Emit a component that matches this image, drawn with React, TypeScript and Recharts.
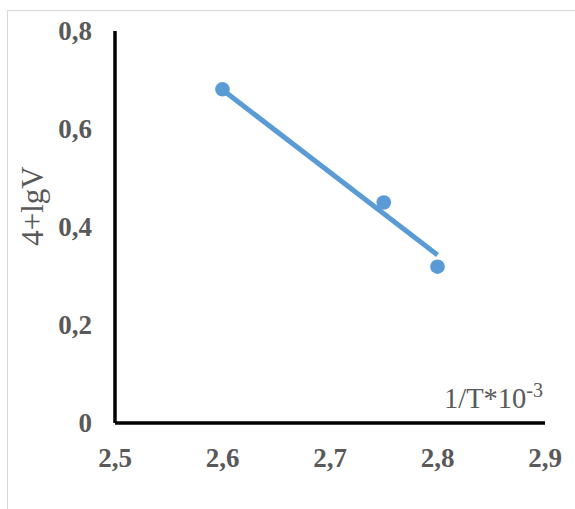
import { ComposedChart, Scatter, Line, XAxis, YAxis, Label } from 'recharts'

const xTicks = [2.5, 2.6, 2.7, 2.8, 2.9]
const yTicks = [0, 0.2, 0.4, 0.6, 0.8]

// measured points
const invT = [2.6, 2.75, 2.8]
const logV = [0.681, 0.45, 0.319]

// linear trend line ends
const trendX = [2.6, 2.8]
const trendY = [0.68, 0.343]

const points = invT.map((x, i) => ({ x, y: logV[i] }))
const trend = trendX.map((x, i) => ({ x, y: trendY[i] }))

const fmt = (v: number) => String(v).replace('.', ',')

const SERIF = 'Liberation Serif'
const GREY = '#595959'
const BLUE = '#5b9bd5'

const XTick = (p: any) => (
  <text
    x={p.x}
    y={p.y}
    dy={20}
    textAnchor="middle"
    style={{ fontFamily: SERIF, fontWeight: 700, fontSize: 27, fill: GREY }}
  >
    {fmt(p.payload.value)}
  </text>
)

const YTick = (p: any) => (
  <text
    x={p.x}
    y={p.y}
    dy={9}
    textAnchor="end"
    style={{ fontFamily: SERIF, fontWeight: 700, fontSize: 27, fill: GREY }}
  >
    {fmt(p.payload.value)}
  </text>
)

export default function App() {
  return (
    <div style={{ position: 'absolute', left: 0, top: 0, width: 575, height: 509, overflow: 'hidden', background: '#fff' }}>
      <div
        style={{
          position: 'absolute',
          left: 7,
          top: 10,
          width: 700,
          height: 700,
          border: '1px solid #d9d9d9',
        }}
      />
      <ComposedChart
        width={575}
        height={509}
        margin={{ top: 31, right: 30, left: 0, bottom: 46 }}
        style={{ position: 'absolute', left: 0, top: 0 }}
      >
        <XAxis
          type="number"
          dataKey="x"
          domain={[2.5, 2.9]}
          ticks={xTicks}
          tick={<XTick />}
          tickLine={false}
          tickSize={0}
          tickMargin={24}
          height={40}
          axisLine={{ stroke: '#000', strokeWidth: 3.5 }}
          allowDataOverflow
        >
          <Label
            position="insideTopRight"
            content={() => (
              <text
                x={543}
                y={408}
                textAnchor="end"
                style={{ fontFamily: SERIF, fontSize: 28.5, fill: GREY }}
              >
                1/T*10<tspan dy={-11} style={{ fontSize: 20 }}>-3</tspan>
              </text>
            )}
          />
        </XAxis>
        <YAxis
          type="number"
          dataKey="y"
          domain={[0, 0.8]}
          ticks={yTicks}
          tick={<YTick />}
          tickLine={false}
          tickSize={0}
          tickMargin={23}
          width={115}
          axisLine={{ stroke: '#000', strokeWidth: 3.5 }}
        >
          <Label
            position="insideLeft"
            content={() => (
              <text
                x={43}
                y={206}
                transform="rotate(-90 43 206)"
                textAnchor="middle"
                style={{ fontFamily: SERIF, fontSize: 31, fill: GREY }}
              >
                4+lgV
              </text>
            )}
          />
        </YAxis>
        <Line
          data={trend}
          dataKey="y"
          stroke={BLUE}
          strokeWidth={5}
          dot={false}
          activeDot={false}
          isAnimationActive={false}
        />
        <Scatter
          data={points}
          dataKey="y"
          fill={BLUE}
          shape={(p: any) => <circle cx={p.cx} cy={p.cy} r={7.3} fill={BLUE} />}
          isAnimationActive={false}
        />
      </ComposedChart>
    </div>
  )
}
